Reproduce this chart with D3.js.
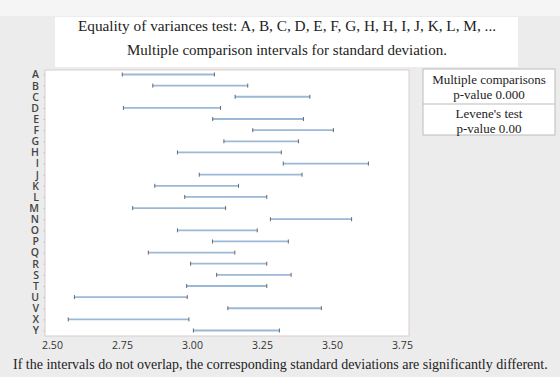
<!DOCTYPE html>
<html>
<head>
<meta charset="utf-8">
<script src="https://cdn.jsdelivr.net/npm/d3@7"></script>
<style>
  body { margin: 0; background: #ececec; }
  svg { display: block; }
  .cat text { font-family: "Open Sans", sans-serif; font-weight: 600; font-size: 10.5px; fill: #444; }
  .xax text { font-family: "Open Sans", sans-serif; font-size: 10.5px; fill: #333; }
  .serif { font-family: "Liberation Serif", "Times New Roman", serif; fill: #222; }
</style>
</head>
<body>
<div id="chart"></div>
<script>
// categories and interval bounds (lower / upper) of the standard deviation
const groups = ["A", "B", "C", "D", "E", "F", "G", "H", "I", "J", "K", "L",
                "M", "N", "O", "P", "Q", "R", "S", "T", "U", "V", "X", "Y"];
const lower = [2.751, 2.860, 3.154, 2.755, 3.074, 3.217, 3.114, 2.948, 3.326, 3.026, 2.867, 2.974,
               2.788, 3.280, 2.948, 3.073, 2.844, 2.995, 3.088, 2.981, 2.580, 3.128, 2.558, 3.005];
const upper = [3.080, 3.199, 3.421, 3.102, 3.398, 3.505, 3.380, 3.319, 3.630, 3.393, 3.166, 3.267,
               3.120, 3.570, 3.233, 3.344, 3.153, 3.267, 3.354, 3.267, 2.983, 3.462, 2.989, 3.312];
const xTicks = [2.50, 2.75, 3.00, 3.25, 3.50, 3.75];

const titleLines = ["Equality of variances test: A, B, C, D, E, F, G, H, H, I, J, K, L, M, ...",
                    "Multiple comparison intervals for standard deviation."];
const panelText = [["Multiple comparisons", "p-value 0.000"], ["Levene's test", "p-value 0.00"]];
const footnote = "If the intervals do not overlap, the corresponding standard deviations are significantly different.";

const W = 560, H = 377;
const plot = { left: 45, right: 409, top: 70, bottom: 336 };

const svg = d3.select("#chart").append("svg")
    .attr("width", W)
    .attr("height", H);

svg.append("rect").attr("width", W).attr("height", H).attr("fill", "#ececec");
svg.append("rect").attr("width", W).attr("height", 16).attr("fill", "#f5f5f5");

// title box
svg.append("rect")
    .attr("x", 55).attr("y", 17).attr("width", 463).attr("height", 50)
    .attr("fill", "#fff");
svg.selectAll(".title")
    .data(titleLines)
    .enter().append("text")
    .attr("class", "serif")
    .attr("x", 287)
    .attr("y", (d, i) => i === 0 ? 31 : 55)
    .attr("text-anchor", "middle")
    .style("font-size", (d, i) => i === 0 ? "15.3px" : "15px")
    .text(d => d);

// scales
const x = d3.scaleLinear()
    .domain([2.475, 3.775])
    .range([plot.left, plot.right]);

const y = d3.scalePoint()
    .domain(groups)
    .range([74.5, 330.5]);

// plot frame
svg.append("rect")
    .attr("x", plot.left).attr("y", plot.top)
    .attr("width", plot.right - plot.left).attr("height", plot.bottom - plot.top)
    .attr("fill", "#fff")
    .attr("stroke", "#d8cccc");

// x axis
const xAxis = svg.append("g")
    .attr("class", "xax")
    .attr("transform", "translate(0," + plot.bottom + ")")
    .call(d3.axisBottom(x).tickValues(xTicks).tickFormat(d3.format(".2f")).tickSize(0).tickPadding(6));
xAxis.select(".domain").remove();

// y axis
const yAxis = svg.append("g")
    .attr("class", "cat")
    .attr("transform", "translate(" + plot.left + ",0)")
    .call(d3.axisLeft(y).tickSize(2).tickPadding(4));
yAxis.select(".domain").remove();
yAxis.selectAll("line").attr("stroke", "#ccc");

// intervals
const rows = groups.map((g, i) => ({ g: g, lo: lower[i], hi: upper[i] }));

const iv = svg.selectAll(".iv")
    .data(rows)
    .enter().append("g")
    .attr("class", "iv");

iv.append("line")
    .attr("x1", d => x(d.lo))
    .attr("x2", d => x(d.hi))
    .attr("y1", d => y(d.g))
    .attr("y2", d => y(d.g))
    .attr("stroke", "#9bb8d6")
    .attr("stroke-width", 1.8);

iv.selectAll(".cap")
    .data(d => [{ v: d.lo, g: d.g }, { v: d.hi, g: d.g }])
    .enter().append("line")
    .attr("x1", d => x(d.v))
    .attr("x2", d => x(d.v))
    .attr("y1", d => y(d.g) - 2)
    .attr("y2", d => y(d.g) + 2)
    .attr("stroke", "#666")
    .attr("stroke-width", 1);

// right panel
const panel = svg.append("g");
panel.append("rect")
    .attr("x", 423).attr("y", 69).attr("width", 132).attr("height", 66)
    .attr("fill", "#fff")
    .attr("stroke", "#bbb");
panel.append("line")
    .attr("x1", 423).attr("x2", 555).attr("y1", 104).attr("y2", 104)
    .attr("stroke", "#bbb");
panelText.forEach(function(lines, k) {
    lines.forEach(function(t, j) {
        panel.append("text")
            .attr("class", "serif")
            .attr("x", 489)
            .attr("y", 84 + k * 34 + j * 15)
            .attr("text-anchor", "middle")
            .style("font-size", "13px")
            .text(t);
    });
});

// footnote
svg.append("text")
    .attr("class", "serif")
    .attr("x", 13)
    .attr("y", 369)
    .style("font-size", "14px")
    .text(footnote);
</script>
</body>
</html>
